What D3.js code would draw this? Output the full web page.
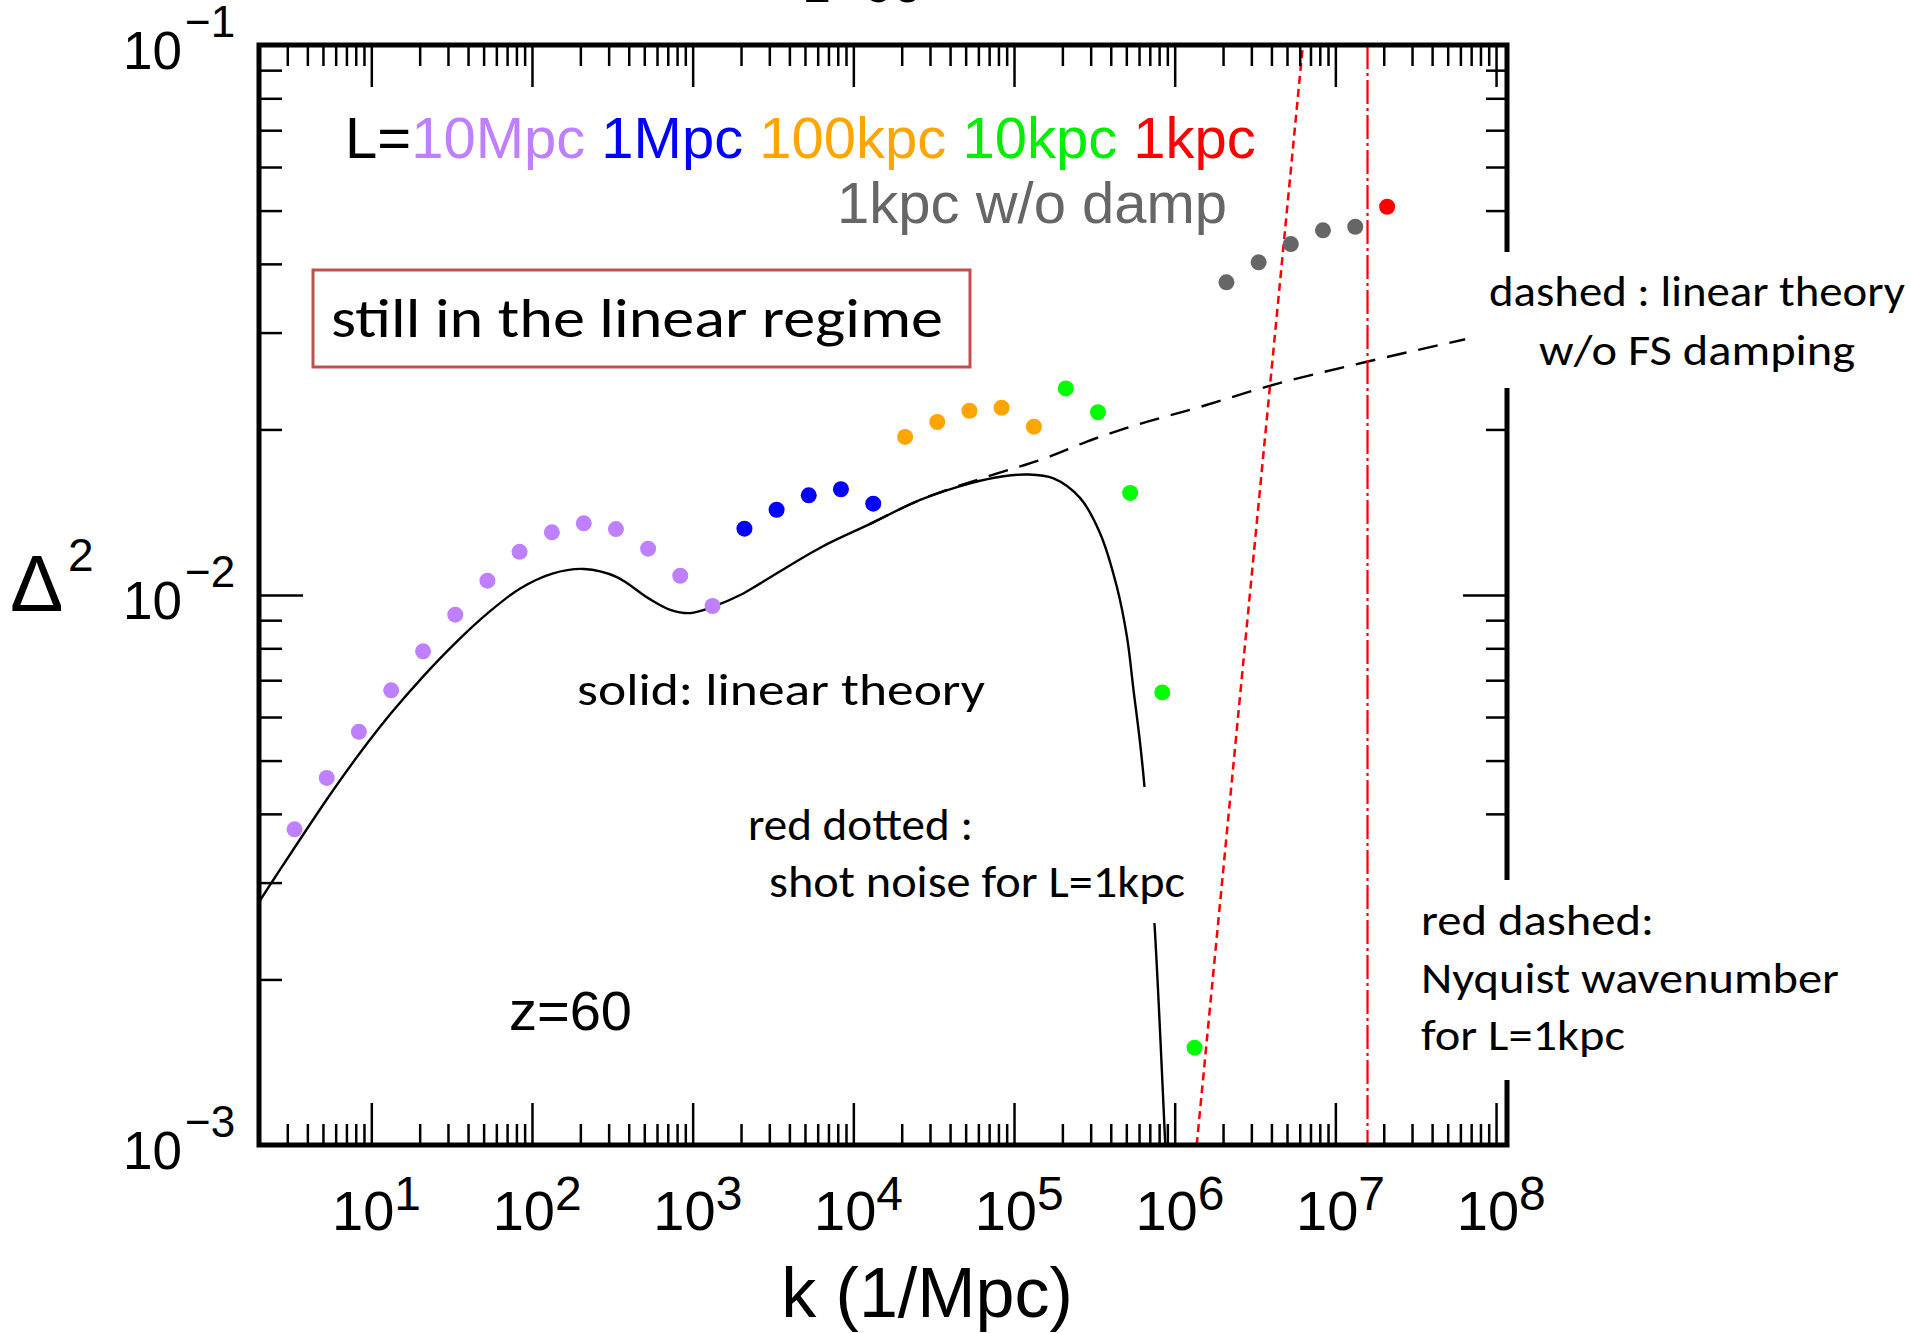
<!DOCTYPE html>
<html><head><meta charset="utf-8">
<script src="https://cdn.jsdelivr.net/npm/d3@7"></script>
<style>body{margin:0;background:#fff}svg{display:block}</style>
</head><body>
<svg id="c" width="1910" height="1333"></svg>
<script>
// ---------- data ----------
const kPurple = [3.33, 5.28, 8.37, 13.3, 21.0, 33.3, 52.8, 83.7, 133, 210, 333, 528, 837, 1330];
const dPurple = [3.75e-3, 4.65e-3, 5.64e-3, 6.71e-3, 7.90e-3, 9.21e-3, 1.062e-2, 1.198e-2, 1.30e-2, 1.35e-2, 1.318e-2, 1.214e-2, 1.084e-2, 9.55e-3];
const kBlue = [2100, 3330, 5280, 8370, 13300];
const dBlue = [1.320e-2, 1.429e-2, 1.518e-2, 1.557e-2, 1.466e-2];
const kOrange = [2.10e4, 3.33e4, 5.28e4, 8.37e4, 1.33e5];
const dOrange = [1.938e-2, 2.063e-2, 2.163e-2, 2.190e-2, 2.023e-2];
const kGreen = [2.10e5, 3.33e5, 5.28e5, 8.37e5, 1.33e6];
const dGreen = [2.375e-2, 2.149e-2, 1.533e-2, 6.65e-3, 1.503e-3];
const kGray = [2.10e6, 3.33e6, 5.28e6, 8.37e6, 1.33e7];
const dGray = [3.702e-2, 4.026e-2, 4.346e-2, 4.603e-2, 4.673e-2];
const kRed = [2.10e7];
const dRed = [5.08e-2];

// solid: linear theory
const kSolid = [1.98, 2.53, 5.32, 8.54, 13.5, 21.4, 33.8, 53.5, 84.5, 134, 211, 335, 532, 726, 966, 1337, 1977, 2636, 6223, 12740, 26060, 53330, 86100, 1.202e5, 1.762e5, 2.582e5, 3.436e5, 4.365e5, 5.047e5, 5.546e5, 6.095e5, 6.486e5, 7.482e5, 8.73e5, 8.80e5];
const dSolid = [2.754e-3, 3.074e-3, 4.262e-3, 5.171e-3, 6.131e-3, 7.152e-3, 8.211e-3, 9.286e-3, 1.028e-2, 1.094e-2, 1.115e-2, 1.079e-2, 9.86e-3, 9.40e-3, 9.27e-3, 9.52e-3, 1.000e-2, 1.050e-2, 1.219e-2, 1.347e-2, 1.489e-2, 1.596e-2, 1.644e-2, 1.656e-2, 1.629e-2, 1.500e-2, 1.294e-2, 1.035e-2, 8.39e-3, 6.71e-3, 5.37e-3, 4.48e-3, 2.53e-3, 1.007e-3, 9.6e-4];
// dashed: linear theory w/o FS damping
const kDashed = [12740, 26060, 67760, 1.641e5, 2.844e5, 4.920e5, 1.442e6, 3.750e6, 1.570e7, 6.427e7];
const dDashed = [1.347e-2, 1.489e-2, 1.641e-2, 1.782e-2, 1.901e-2, 2.009e-2, 2.198e-2, 2.393e-2, 2.655e-2, 2.917e-2];
// red dotted: shot noise for L=1kpc
const kShot = [1.371e6, 6.28e6];
const dShot = [1e-3, 1e-1];
// red dash-dot: Nyquist wavenumber for L=1kpc
const kNyquist = 1.585e7;

const xTickExps = [1, 2, 3, 4, 5, 6, 7, 8];
const yTickExps = [-1, -2, -3];
const minorMultipliers = [2, 3, 4, 5, 6, 7, 8, 9];

const legendParts = [["L=", "#000"], ["10Mpc", "#bf80ff"], [" 1Mpc", "#0000ff"], [" 100kpc", "#ffa500"], [" 10kpc", "#00ee00"], [" 1kpc", "#ff0000"]];

// ---------- layout ----------
const L = 259, R = 1507, T = 45, B = 1145;
const svg = d3.select("#c");
const x = d3.scaleLog().domain([2, 1.17e8]).range([L, R]);
const y = d3.scaleLog().domain([1e-3, 1e-1]).range([B, T]);

svg.append("defs").append("clipPath").attr("id", "clip")
  .append("rect").attr("x", L).attr("y", T).attr("width", R - L).attr("height", B - T);

const plot = svg.append("g").attr("clip-path", "url(#clip)");

const zip = (ks, ds) => ks.map((k, i) => [k, ds[i]]);

// solid
plot.append("path").datum(zip(kSolid, dSolid))
  .attr("d", d3.line().x(d => x(d[0])).y(d => y(d[1])).curve(d3.curveCatmullRom.alpha(0.5)))
  .attr("fill", "none").attr("stroke", "#000").attr("stroke-width", 2.4);
// dashed
plot.append("path").datum(zip(kDashed, dDashed))
  .attr("d", d3.line().x(d => x(d[0])).y(d => y(d[1])).curve(d3.curveMonotoneX))
  .attr("fill", "none").attr("stroke", "#000").attr("stroke-width", 2.4)
  .attr("stroke-dasharray", "20,12");
// shot noise
plot.append("path").datum(zip(kShot, dShot))
  .attr("d", d3.line().x(d => x(d[0])).y(d => y(d[1])))
  .attr("fill", "none").attr("stroke", "#ff0000").attr("stroke-width", 2.5)
  .attr("stroke-dasharray", "8,5");
// Nyquist
plot.append("line").attr("x1", x(kNyquist)).attr("x2", x(kNyquist))
  .attr("y1", T).attr("y2", B).attr("stroke", "#ff0000").attr("stroke-width", 2.2)
  .attr("stroke-dasharray", "24,4,3,4");

// points
const groups = [[kPurple, dPurple, "#bf80ff"], [kBlue, dBlue, "#0000ff"], [kOrange, dOrange, "#ffa500"],
  [kGreen, dGreen, "#00ff00"], [kGray, dGray, "#666666"], [kRed, dRed, "#ff0000"]];
groups.forEach(([ks, ds, col]) => {
  plot.append("g").selectAll("circle").data(zip(ks, ds)).join("circle")
    .attr("cx", d => x(d[0])).attr("cy", d => y(d[1])).attr("r", 8).attr("fill", col);
});

// ---------- axes ----------
const xMajor = xTickExps.map(e => Math.pow(10, e));
const xMinor = [];
for (let e = 0; e <= 7; e++) minorMultipliers.forEach(m => { const v = m * Math.pow(10, e); if (v > 2.01 && v < 1.17e8) xMinor.push(v); });
const yMajor = yTickExps.map(e => Math.pow(10, e));
const yMinor = [];
[-3, -2].forEach(e => minorMultipliers.forEach(m => yMinor.push(m * Math.pow(10, e))));

function addAxis(gen, tr) {
  const g = svg.append("g").attr("transform", tr).call(gen);
  g.select(".domain").remove();
  g.selectAll("text").remove();
  g.selectAll("line").attr("stroke", "#000").attr("stroke-width", 2.5);
}
addAxis(d3.axisBottom(x).tickValues(xMajor).tickSize(-42), `translate(0,${B})`);
addAxis(d3.axisBottom(x).tickValues(xMinor).tickSize(-21), `translate(0,${B})`);
addAxis(d3.axisTop(x).tickValues(xMajor).tickSize(-42), `translate(0,${T})`);
addAxis(d3.axisTop(x).tickValues(xMinor).tickSize(-21), `translate(0,${T})`);
addAxis(d3.axisLeft(y).tickValues(yMajor).tickSize(-44), `translate(${L},0)`);
addAxis(d3.axisLeft(y).tickValues(yMinor).tickSize(-23), `translate(${L},0)`);
addAxis(d3.axisRight(y).tickValues(yMajor).tickSize(-44), `translate(${R},0)`);
addAxis(d3.axisRight(y).tickValues(yMinor).tickSize(-21), `translate(${R},0)`);

// frame
svg.append("rect").attr("x", L).attr("y", T).attr("width", R - L).attr("height", B - T)
  .attr("fill", "none").attr("stroke", "#000").attr("stroke-width", 5);

// tick labels
const HF = "'Liberation Sans', Arial, Helvetica, sans-serif";
xTickExps.forEach(e => {
  const px = x(Math.pow(10, e));
  svg.append("text").attr("x", px + 23).attr("y", 1230).attr("text-anchor", "end")
    .attr("font-family", HF).attr("font-size", 56).text("10");
  svg.append("text").attr("x", px + 23).attr("y", 1210).attr("text-anchor", "start")
    .attr("font-family", HF).attr("font-size", 48).text(String(e));
});
yTickExps.forEach(e => {
  const py = y(Math.pow(10, e));
  svg.append("text").attr("x", 123).attr("y", py + 24)
    .attr("font-family", HF).attr("font-size", 53).text("10");
  svg.append("text").attr("x", 185).attr("y", py - 8)
    .attr("font-family", HF).attr("font-size", 44).text("\u2212" + Math.abs(e));
});

// axis titles
svg.append("text").attr("x", 927).attr("y", 1317).attr("text-anchor", "middle")
  .attr("font-family", HF).attr("font-size", 70).text("k (1/Mpc)");
svg.append("text").attr("x", 10).attr("y", 611).attr("font-family", HF).attr("font-size", 80).text("\u0394");
svg.append("text").attr("x", 68).attr("y", 571).attr("font-family", HF).attr("font-size", 46).text("2");
// cut-off title at very top
svg.append("text").attr("x", 804).attr("y", 2).attr("font-family", HF).attr("font-size", 54).text("z=60");

// legend
const leg = svg.append("text").attr("x", 345).attr("y", 158).attr("font-family", HF).attr("font-size", 58)
  .attr("xml:space", "preserve");
legendParts.forEach(([t, c]) => leg.append("tspan").attr("fill", c).text(t));
svg.append("text").attr("x", 837).attr("y", 223).attr("font-family", HF).attr("font-size", 58)
  .attr("fill", "#666666").text("1kpc w/o damp");

// z=60
svg.append("text").attr("x", 509).attr("y", 1030).attr("font-family", HF).attr("font-size", 56).text("z=60");

// white masks behind annotation boxes
function mask(x0, y0, x1, y1) {
  svg.append("rect").attr("x", x0).attr("y", y0).attr("width", x1 - x0).attr("height", y1 - y0).attr("fill", "#fff");
}
mask(745, 787, 1192, 923);
mask(1468, 252, 1910, 388);
mask(1412, 880, 1910, 1080);

// annotation texts
const CF = "Carlito, Lato, 'Open Sans', sans-serif";
function note(txt, x0, x1, base, size) {
  svg.append("text").attr("x", x0).attr("y", base).attr("font-family", CF).attr("font-size", size)
    .attr("textLength", x1 - x0).attr("lengthAdjust", "spacingAndGlyphs").attr("xml:space", "preserve").text(txt);
}
svg.append("rect").attr("x", 313).attr("y", 270).attr("width", 657).attr("height", 97)
  .attr("fill", "#fff").attr("stroke", "#c0504d").attr("stroke-width", 3);
note("still in the linear regime", 331, 943, 337, 56);
note("solid: linear theory", 577, 985, 705, 46);
note("red dotted :", 748, 973, 840, 46);
note("shot noise for L=1kpc", 769, 1185, 897, 46);
note("dashed : linear theory", 1489, 1905, 306, 44);
note("w/o FS damping", 1539, 1855, 365, 44);
note("red dashed:", 1421, 1654, 935, 44);
note("Nyquist wavenumber", 1421, 1839, 993, 44);
note("for L=1kpc", 1421, 1625, 1050, 44);
</script>
</body></html>
